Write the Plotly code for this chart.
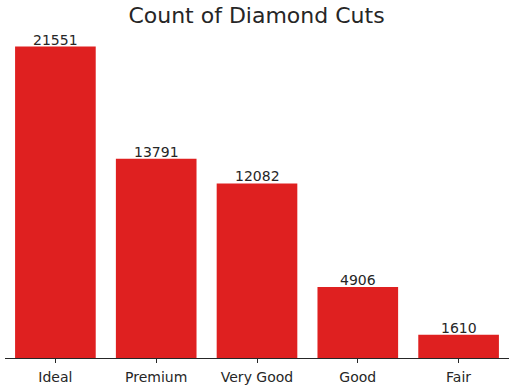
import plotly.graph_objects as go

cuts = ["Ideal", "Premium", "Very Good", "Good", "Fair"]
counts = [21551, 13791, 12082, 4906, 1610]

fig = go.Figure(go.Bar(
    x=cuts, y=counts, marker_color="#df2020", marker_line_width=0,
    width=0.8, hoverinfo="x+y",
))
for c, v in zip(cuts, counts):
    fig.add_annotation(x=c, y=v, text=str(v), showarrow=False, yanchor="bottom",
                       yshift=-3, font=dict(size=14, color="#262626", family="DejaVu Sans"))
fig.update_layout(
    width=513, height=391,
    margin=dict(l=5, r=4, t=31, b=33),
    plot_bgcolor="white", paper_bgcolor="white",
    font=dict(family="DejaVu Sans", color="#262626"),
    title=dict(text="Count of Diamond Cuts", x=0.5, xanchor="center",
               y=1 - 15 / 391, yanchor="middle", font=dict(size=22, color="#262626")),
    showlegend=False,
    bargap=0.2,
)
fig.update_xaxes(range=[-0.5, 4.5], showline=True, linecolor="#262626", linewidth=1,
                 ticks="outside", ticklen=4, tickcolor="#262626", ticklabelstandoff=2,
                 tickfont=dict(size=14, color="#262626"), showgrid=False)
fig.update_yaxes(range=[0, 21551 * 1.05], visible=False, showgrid=False)
fig.write_html("out.html", config={"displayModeBar": False},
               post_script="document.body.style.margin='0';document.body.style.padding='0';")
